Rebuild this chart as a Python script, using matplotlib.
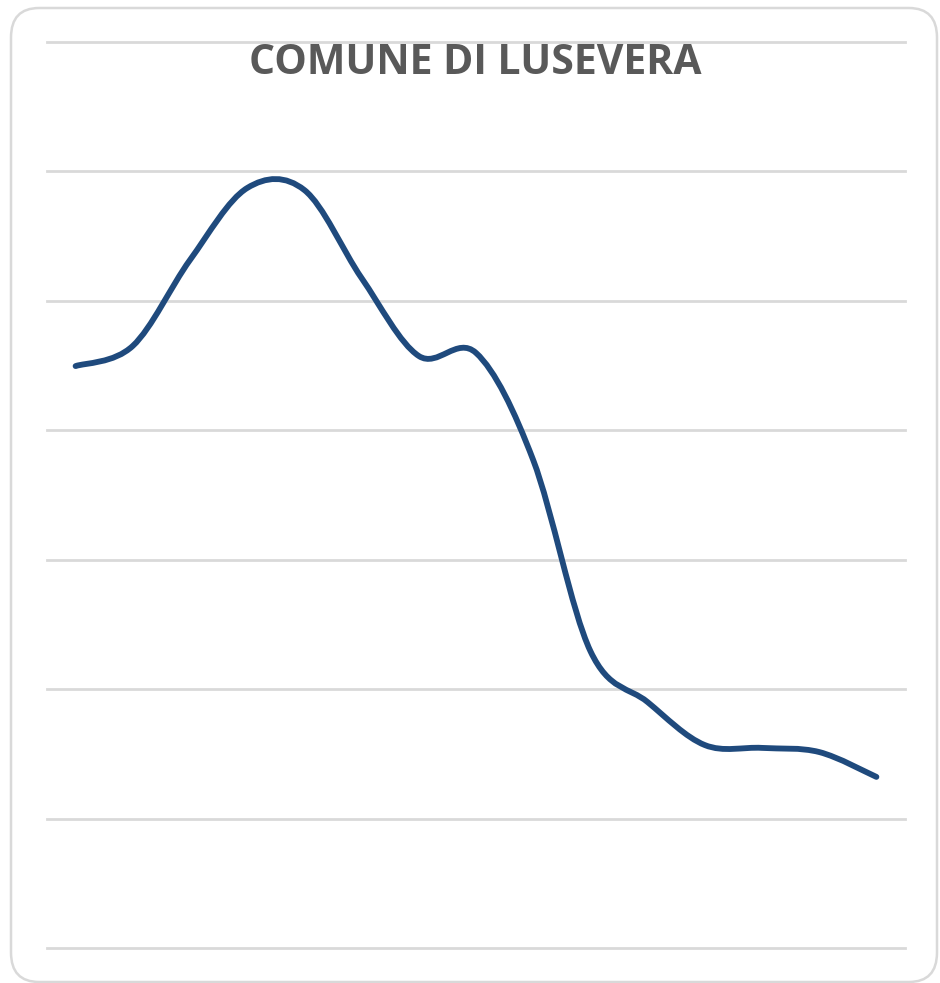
import matplotlib
matplotlib.use('Agg')
import matplotlib.pyplot as plt
from matplotlib.path import Path
from matplotlib.patches import PathPatch, FancyBboxPatch
import numpy as np

# census years (categories) and population of the comune
years = ['1861', '1871', '1881', '1901', '1911', '1921', '1931', '1936',
         '1951', '1961', '1971', '1981', '1991', '2001', '2011']
population = [2248, 2326, 2658, 2936, 2928, 2588, 2287, 2299,
              1885, 1147, 950, 784, 773, 757, 661]
yTicks = [0, 500, 1000, 1500, 2000, 2500, 3000, 3500]


def smoothPath(xs, ys):
    # Excel style smoothed line: catmull-rom segments as cubic beziers
    pts = np.column_stack([xs, ys]).astype(float)
    n = len(pts)
    verts = [pts[0]]
    codes = [Path.MOVETO]
    for i in range(n - 1):
        p0 = pts[i - 1] if i > 0 else pts[i]
        p1 = pts[i]
        p2 = pts[i + 1]
        p3 = pts[i + 2] if i + 2 < n else pts[i + 1]
        c1 = p1 + (p2 - p0) / 6.0
        c2 = p2 - (p3 - p1) / 6.0
        verts += [c1, c2, p2]
        codes += [Path.CURVE4] * 3
    return Path(verts, codes)


fig = plt.figure(figsize=(9.4, 9.83), dpi=100)

# rounded chart border
border = FancyBboxPatch((11 / 940, 1 - 982 / 983), 926 / 940, 974 / 983,
                        boxstyle='round,pad=0,rounding_size=0.03',
                        transform=fig.transFigure, facecolor='none',
                        edgecolor='#D9D9D9', linewidth=1.8, zorder=0)
fig.patches.append(border)

ax = fig.add_axes([47 / 940, 35 / 983, 858 / 940, 906 / 983])
ax.set_facecolor('none')

xPos = np.arange(len(years))
ax.set_xlim(-0.5, len(years) - 0.5)
ax.set_ylim(0, 3500)
ax.set_yticks(yTicks)
ax.set_xticks(xPos)
ax.grid(axis='y', color='#D9D9D9', linewidth=2.0)
for gl in ax.get_ygridlines():
    gl.set_clip_on(False)
ax.set_axisbelow(True)
ax.tick_params(left=False, bottom=False, labelleft=False, labelbottom=False)
for s in ax.spines.values():
    s.set_visible(False)

line = PathPatch(smoothPath(xPos, population), facecolor='none',
                 edgecolor='#1F4A7D', linewidth=4.2, capstyle='round',
                 joinstyle='round', zorder=3)
ax.add_patch(line)

fig.text(0.506, 1 - 64 / 983, 'COMUNE DI LUSEVERA', ha='center', va='center',
         fontsize=29.5, fontweight='bold', color='#595959',
         family=['Open Sans', 'DejaVu Sans'])

fig.savefig('out.png', dpi=100)
